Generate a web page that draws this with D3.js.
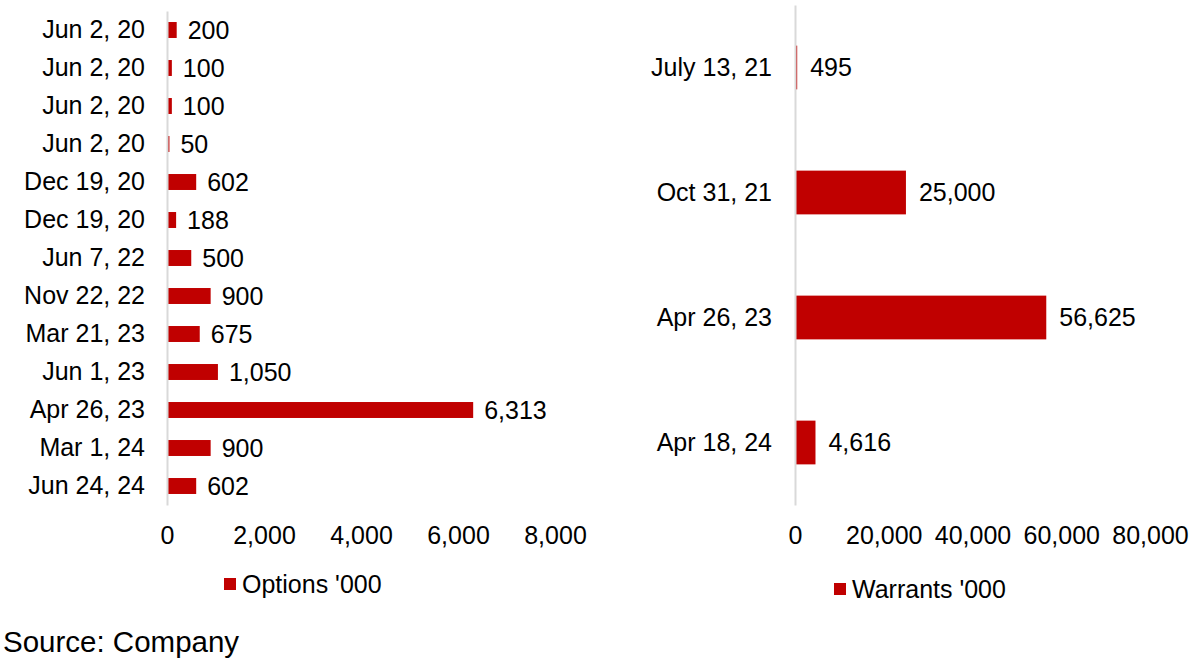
<!DOCTYPE html>
<html><head><meta charset="utf-8">
<script src="https://cdn.jsdelivr.net/npm/d3@7"></script>
<style>body{margin:0;background:#fff}svg{display:block}text{font-family:"Liberation Sans",Arial,sans-serif}</style>
</head><body>
<svg id="c" width="1192" height="663"></svg>
<script>
const optCategories = ["Jun 2, 20","Jun 2, 20","Jun 2, 20","Jun 2, 20","Dec 19, 20","Dec 19, 20","Jun 7, 22","Nov 22, 22","Mar 21, 23","Jun 1, 23","Apr 26, 23","Mar 1, 24","Jun 24, 24"];
const optValues = [200,100,100,50,602,188,500,900,675,1050,6313,900,602];
const optTicks = [0,2000,4000,6000,8000];
const warCategories = ["July 13, 21","Oct 31, 21","Apr 26, 23","Apr 18, 24"];
const warValues = [495,25000,56625,4616];
const warTicks = [0,20000,40000,60000,80000];
const optLegend = "Options '000";
const warLegend = "Warrants '000";
const sourceText = "Source: Company";

const svg = d3.select("#c");
const fmt = d3.format(",");
const RED = "#C00000";
const FS = 25;

function panel(o){
  const g = svg.append("g");
  const idx = o.cats.map((d,i)=>i);
  const y = d3.scaleBand().domain(idx).range([o.y0,o.y1]).paddingInner(o.pad).paddingOuter(o.pad/2);
  const x = d3.scaleLinear().domain([0,o.max]).range([o.x0,o.x1]);
  g.selectAll("rect.bar").data(o.vals).enter().append("rect")
    .attr("x",x(0)).attr("y",(d,i)=>y(i)).attr("width",d=>x(d)-x(0)).attr("height",y.bandwidth()).attr("fill",RED);
  const ya = d3.axisLeft(y).tickSize(0).tickSizeOuter(0).tickPadding(o.labPad).tickFormat(i=>o.cats[i]);
  const yg = g.append("g").attr("transform",`translate(${x(0)},0)`).call(ya);
  yg.select(".domain").attr("stroke","#d9d9d9").attr("stroke-width",2);
  yg.selectAll("text").attr("font-size",FS).attr("fill","#000").attr("font-family","Liberation Sans, Arial");
  g.selectAll("text.val").data(o.vals).enter().append("text")
    .attr("x",d=>x(d)+o.valPad).attr("y",(d,i)=>y(i)+y.bandwidth()/2).attr("dy","0.35em")
    .attr("font-size",FS).attr("fill","#000").text(d=>fmt(d));
  const xa = d3.axisBottom(x).tickValues(o.ticks).tickSize(0).tickPadding(0).tickFormat(fmt);
  const xg = g.append("g").attr("transform",`translate(0,${o.tickY})`).call(xa);
  xg.select(".domain").remove();
  xg.selectAll("text").attr("font-size",FS).attr("fill","#000").attr("font-family","Liberation Sans, Arial").attr("dy","0.35em").attr("y",0);
  g.append("rect").attr("x",o.legX).attr("y",o.legY-6).attr("width",12).attr("height",12).attr("fill",RED);
  g.append("text").attr("x",o.legX+18).attr("y",o.legY).attr("dy","0.35em").attr("font-size",FS).attr("fill","#000").text(o.legend);
}

panel({cats:optCategories,vals:optValues,ticks:optTicks,max:8000,x0:167,x1:555,y0:11,y1:505,pad:0.58,labPad:22,valPad:11,tickY:535,legX:224,legY:584,legend:optLegend});
panel({cats:warCategories,vals:warValues,ticks:warTicks,max:80000,x0:795,x1:1150,y0:5,y1:505,pad:0.65,labPad:23,valPad:13,tickY:535,legX:834,legY:589,legend:warLegend});

svg.append("text").attr("x",3).attr("y",652).attr("font-size",29.5).attr("fill","#000").text(sourceText);
</script>
</body></html>
